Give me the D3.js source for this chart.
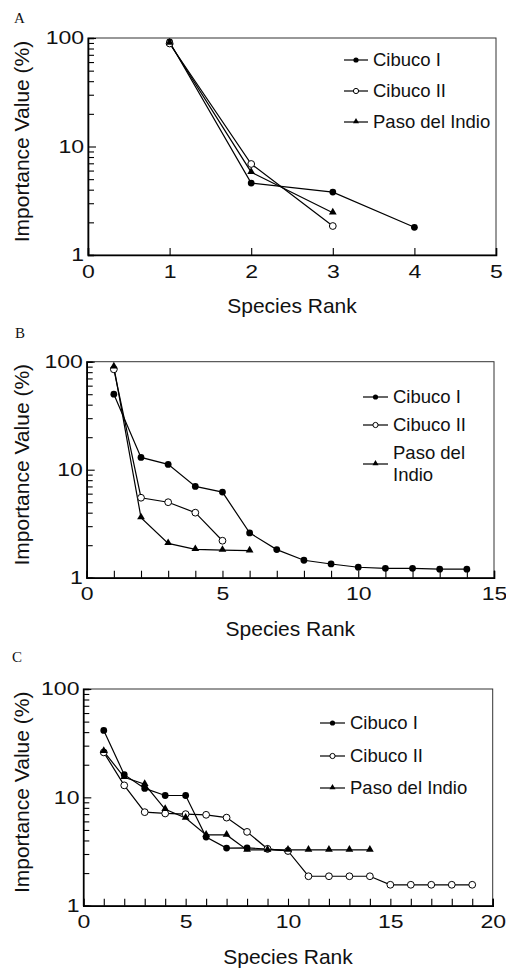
<!DOCTYPE html>
<html>
<head>
<meta charset="utf-8">
<script src="https://cdn.jsdelivr.net/npm/d3@7"></script>
<style>
  html, body { margin: 0; padding: 0; background: #fff; }
  svg { display: block; }
  text { font-family: "Liberation Sans", Arial, Helvetica, sans-serif; fill: #111; }
  .plabel { font-family: "Liberation Serif", "Times New Roman", serif; }
</style>
</head>
<body>
<svg id="chart" width="506" height="971"></svg>
<script>
// ---------- DATA ----------
const seriesNames = ["Cibuco I", "Cibuco II", "Paso del Indio"];

// Panel A
const A_cibucoI  = [92, 4.6, 3.8, 1.8];
const A_cibucoII = [89, 6.9, 1.85];
const A_paso     = [90, 5.8, 2.45];

// Panel B
const B_cibucoI  = [50, 13, 11.2, 7.0, 6.2, 2.6, 1.82, 1.45, 1.34, 1.25, 1.22, 1.22, 1.2, 1.2];
const B_cibucoII = [85, 5.5, 5.0, 4.0, 2.2];
const B_paso     = [90, 3.6, 2.08, 1.83, 1.8, 1.78];

// Panel C
const C_cibucoI  = [41.5, 16.2, 12.1, 10.4, 10.4, 4.3, 3.4, 3.42, 3.33, 3.2];
const C_cibucoII = [26, 12.9, 7.3, 7.1, 7.0, 6.9, 6.5, 4.8, 3.35, 3.2, 1.87, 1.87, 1.87, 1.87, 1.56, 1.56, 1.56, 1.56, 1.56];
const C_paso     = [26.6, 15.3, 13.2, 7.75, 6.45, 4.5, 4.5, 3.27, 3.27, 3.27, 3.27, 3.27, 3.27, 3.27];

const xMaxA = 5, xMaxB = 15, xMaxC = 20;
const xLabelStepA = 1, xLabelStepB = 5, xLabelStepC = 5;
const yMajorTicks = [1, 10, 100];
const xTitle = "Species Rank";
const yTitle = "Importance Value (%)";

// ---------- LAYOUT ----------
const svg = d3.select("#chart");

const panels = [
  { label: "A", labelPos: [14, 23], box: { l: 88, r: 496, t: 38, b: 255 }, xMax: xMaxA, step: xLabelStepA,
    data: [A_cibucoI, A_cibucoII, A_paso],
    legend: { x1: 344, x2: 368, tx: 373, rows: [[60], [91], [122]], markY: [60, 91, 122] } },
  { label: "B", labelPos: [15, 338], box: { l: 86.7, r: 494, t: 361.7, b: 577.7 }, xMax: xMaxB, step: xLabelStepB,
    data: [B_cibucoI, B_cibucoII, B_paso],
    legend: { x1: 363, x2: 388, tx: 393, rows: [[397], [425], [453, 475]], markY: [397, 425, 464] } },
  { label: "C", labelPos: [12, 662], box: { l: 83.3, r: 492.7, t: 689, b: 905.7 }, xMax: xMaxC, step: xLabelStepC,
    data: [C_cibucoI, C_cibucoII, C_paso],
    legend: { x1: 320, x2: 345, tx: 350, rows: [[723], [756], [788]], markY: [723, 756, 788] } }
];

const legendLines = [["Cibuco I"], ["Cibuco II"], ["Paso del", "Indio"]];

function drawMarker(g, type, cx, cy, small) {
  const r = small ? 2.6 : 3.4;
  if (type === 0) {
    g.append("circle").attr("cx", cx).attr("cy", cy).attr("r", r).attr("fill", "#000");
  } else if (type === 1) {
    g.append("circle").attr("cx", cx).attr("cy", cy).attr("r", r)
      .attr("fill", "#fff").attr("stroke", "#000").attr("stroke-width", 1);
  } else {
    g.append("path").attr("d", d3.symbol(d3.symbolTriangle, small ? 16 : 26)())
      .attr("transform", `translate(${cx},${cy - 0.5})`).attr("fill", "#000");
  }
}

panels.forEach((p, pi) => {
  const { l, r, t, b } = p.box;
  const x = d3.scaleLinear().domain([0, p.xMax]).range([l, r]);
  const y = d3.scaleLog().domain([1, 100]).range([b, t]);
  const g = svg.append("g");

  g.append("text").attr("class", "plabel").attr("x", p.labelPos[0]).attr("y", p.labelPos[1])
    .style("font-size", "15px").text(p.label);

  g.append("rect").attr("x", l).attr("y", t).attr("width", r - l).attr("height", b - t)
    .attr("fill", "none").attr("stroke", "#333").attr("stroke-width", 1);

  // y axis
  const yTicks = [];
  for (let dec = 1; dec < 100; dec *= 10) for (let k = 1; k < 10; k++) yTicks.push(dec * k);
  yTicks.push(100);
  const yAxis = d3.axisLeft(y).tickValues(yTicks).tickSize(-6).tickPadding(4)
    .tickFormat(d => yMajorTicks.includes(d) ? d3.format("d")(d) : "");
  const ya = g.append("g").attr("transform", `translate(${l},0)`).call(yAxis);
  ya.select(".domain").attr("stroke", "#000").attr("stroke-width", 1.6);
  ya.selectAll(".tick line").attr("stroke", "#000").attr("stroke-width", 1.1)
    .attr("x2", d => yMajorTicks.includes(d) ? 8 : 6);
  ya.selectAll(".tick text").style("font-size", "18px").attr("fill", "#111")
    .attr("transform", "scale(1.28,1)").attr("x", -3);

  // x axis
  const xTicks = d3.range(0, p.xMax + 1);
  const xAxis = d3.axisBottom(x).tickValues(xTicks).tickSize(-7).tickPadding(10)
    .tickFormat(d => d % p.step === 0 ? d : "");
  const xa = g.append("g").attr("transform", `translate(0,${b})`).call(xAxis);
  xa.select(".domain").attr("stroke", "#000").attr("stroke-width", 1.6);
  xa.selectAll(".tick line").attr("stroke", "#000").attr("stroke-width", 1.1);
  xa.selectAll(".tick text").style("font-size", "18px").attr("fill", "#111")
    .attr("transform", "scale(1.28,1)").attr("x", 0);

  // titles
  g.append("text").attr("x", (l + r) / 2).attr("y", b + 58).attr("text-anchor", "middle")
    .style("font-size", "21px").text(xTitle);
  g.append("text").attr("transform", `translate(22,${(t + b) / 2 - 5}) rotate(-90)`)
    .attr("text-anchor", "middle").attr("dy", "0.35em")
    .style("font-size", "21px").text(yTitle);

  // series
  const line = d3.line().x((d, i) => x(i + 1)).y(d => y(d));
  p.data.forEach((vals) => {
    g.append("path").datum(vals).attr("d", line)
      .attr("fill", "none").attr("stroke", "#000").attr("stroke-width", 1.2);
  });
  p.data.forEach((vals, si) => {
    vals.forEach((v, i) => drawMarker(g, si, x(i + 1), y(v), false));
  });

  // legend
  const lg = p.legend;
  seriesNames.forEach((name, si) => {
    const my = lg.markY[si];
    g.append("line").attr("x1", lg.x1).attr("x2", lg.x2).attr("y1", my).attr("y2", my)
      .attr("stroke", "#000").attr("stroke-width", 1.2);
    drawMarker(g, si, (lg.x1 + lg.x2) / 2, my, true);
    const lines = (pi === 1) ? legendLines[si] : [name];
    lines.forEach((txt, li) => {
      g.append("text").attr("x", lg.tx).attr("y", lg.rows[si][li]).attr("dy", "0.35em")
        .style("font-size", "18.5px").text(txt);
    });
  });
});
</script>
</body>
</html>
